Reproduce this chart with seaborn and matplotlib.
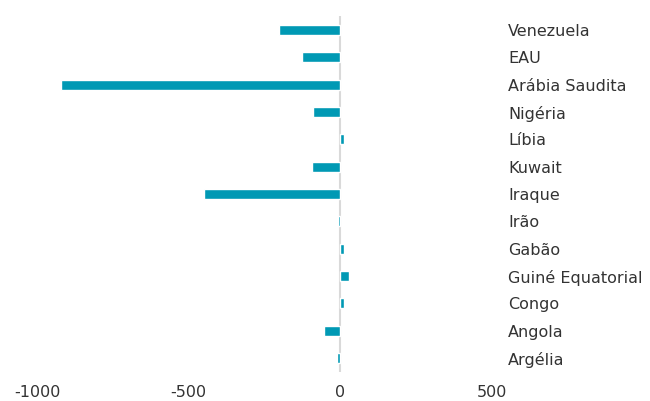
import matplotlib
matplotlib.use("Agg")
import matplotlib.pyplot as plt
import seaborn as sns
import pandas as pd

countries = ["Venezuela", "EAU", "Arábia Saudita", "Nigéria", "Líbia", "Kuwait",
             "Iraque", "Irão", "Gabão", "Guiné Equatorial", "Congo", "Angola", "Argélia"]
values = [-202, -127, -922, -89, 13, -95, -451, -8, 11, 27, 11, -53, -11]
xticks = [-1000, -500, 0, 500]

df = pd.DataFrame({"country": countries, "value": values})

sns.set_theme(style="white")
plt.rcParams["font.family"] = ["DejaVu Sans"]

fig = plt.figure(figsize=(6.5, 4.01), dpi=100)
ax = fig.add_axes([0.057, 0.073, 0.700, 0.886])

ax.axvline(0, color="#d9d9d9", lw=1.5, zorder=0)
sns.barplot(data=df, x="value", y="country", orient="h", color="#0099B4",
            saturation=1, width=0.37, ax=ax, order=countries, zorder=3)

ax.set_xlim(-1000, 500)
ax.set_xticks(xticks)
ax.set_xticklabels([str(v) for v in xticks])
ax.set_xlabel("")
ax.set_ylabel("")
ax.yaxis.tick_right()
ax.tick_params(axis="y", length=0, pad=11.5, labelsize=11.5, labelcolor="#333333")
ax.tick_params(axis="x", length=0, pad=9.5, labelsize=11.5, labelcolor="#333333")
for s in ax.spines.values():
    s.set_visible(False)
ax.grid(False)

fig.savefig("out.png", dpi=100)
